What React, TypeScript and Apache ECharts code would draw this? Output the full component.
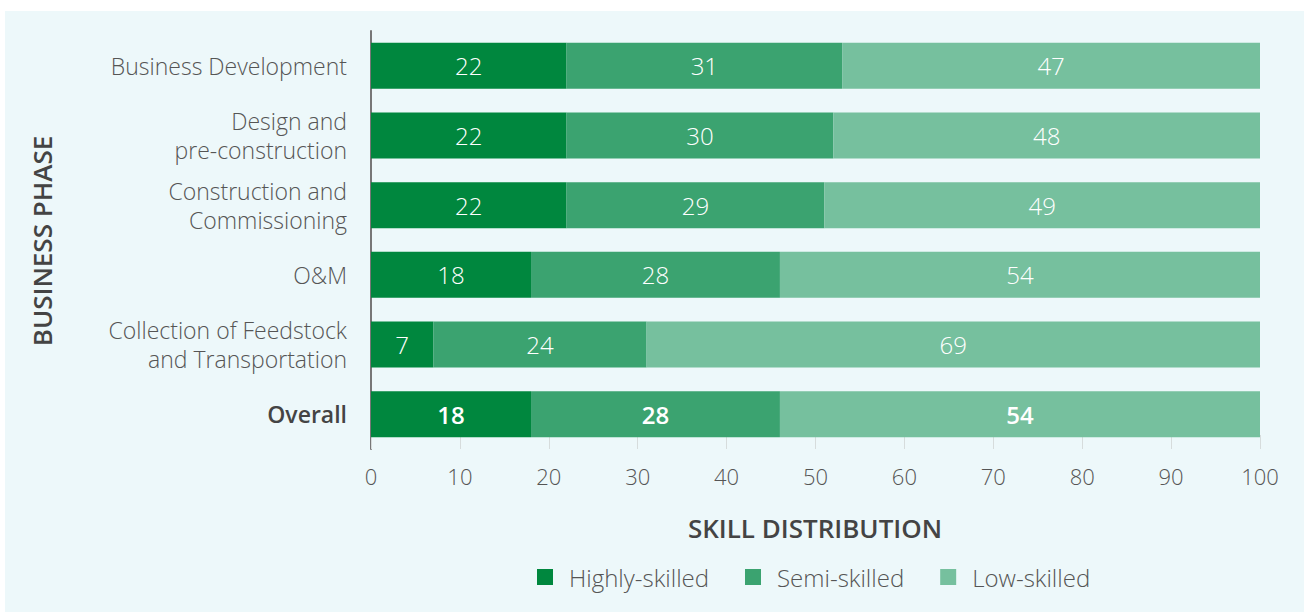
import React, { useEffect, useRef } from "react";
import * as echarts from "echarts";

const categories = [
  "Business Development",
  "Design and\npre-construction",
  "Construction and\nCommissioning",
  "O&M",
  "Collection of Feedstock\nand Transportation",
  "Overall",
];
const highlySkilled = [22, 22, 22, 18, 7, 18];
const semiSkilled = [31, 30, 29, 28, 24, 28];
const lowSkilled = [47, 48, 49, 54, 69, 54];
const seriesNames = ["Highly-skilled", "Semi-skilled", "Low-skilled"];
const colors = ["#00873e", "#3ba370", "#76c09e"];

const FONT = "Open Sans";
const TEXT = "#555555";

export default function App() {
  const ref = useRef<HTMLDivElement>(null);
  useEffect(() => {
    if (!ref.current) return;
    const chart = echarts.init(ref.current, null, { renderer: "svg" });
    const mk = (name: string, vals: number[], color: string) => ({
      name,
      type: "bar",
      stack: "total",
      barCategoryGap: "34%",
      itemStyle: { color },
      label: {
        show: true,
        position: "inside",
        color: "#ffffff",
        fontFamily: FONT,
        fontSize: 24,
        fontWeight: 300,
      },
      data: vals.map((v, i) =>
        categories[i] === "Overall"
          ? { value: v, label: { fontWeight: 600 } }
          : { value: v }
      ),
    });
    chart.setOption({
      animation: false,
      backgroundColor: "#ffffff",
      textStyle: { fontFamily: FONT },
      graphic: [
        {
          type: "rect",
          z: -10,
          silent: true,
          shape: { x: 5, y: 11, width: 1299, height: 601 },
          style: { fill: "#edf8fa" },
        },
        {
          type: "text",
          x: 815,
          y: 528,
          style: {
            text: "SKILL DISTRIBUTION",
            fill: "#444444",
            font: `600 26px ${FONT}`,
            align: "center",
            verticalAlign: "middle",
          },
        },
        {
          type: "text",
          x: 42,
          y: 241,
          rotation: Math.PI / 2,
          style: {
            text: "BUSINESS PHASE",
            fill: "#444444",
            font: `600 26px ${FONT}`,
            align: "center",
            verticalAlign: "middle",
          },
        },
      ],
      legend: {
        data: seriesNames,
        top: 565,
        left: 537,
        padding: 0,
        itemWidth: 16,
        itemHeight: 16,
        itemGap: 36,
        icon: "rect",
        textStyle: {
          color: TEXT,
          fontSize: 24,
          fontFamily: FONT,
          fontWeight: 300,
          padding: [0, 0, 0, 11],
        },
      },
      grid: { left: 371, right: 44, top: 31, bottom: 163, containLabel: false },
      xAxis: {
        type: "value",
        min: 0,
        max: 100,
        interval: 10,
        axisLine: { show: false },
        axisTick: {
          show: true,
          inside: true,
          length: 14,
          lineStyle: { color: "#d6dcdc", width: 1 },
        },
        splitLine: { show: false },
        axisLabel: { color: TEXT, fontSize: 22, margin: 16, fontFamily: FONT, fontWeight: 300 },
      },
      yAxis: {
        type: "category",
        inverse: true,
        data: categories,
        axisLine: { show: true, lineStyle: { color: "#777777", width: 2 } },
        axisTick: { show: false },
        axisLabel: {
          color: TEXT,
          fontSize: 23,
          lineHeight: 29,
          margin: 24,
          fontFamily: FONT,
          fontWeight: 300,
          formatter: (v: string) => (v === "Overall" ? `{b|${v}}` : v),
          rich: {
            b: { fontWeight: 600, fontSize: 23, color: "#444444", fontFamily: FONT },
          },
        },
      },
      series: [
        mk(seriesNames[0], highlySkilled, colors[0]),
        mk(seriesNames[1], semiSkilled, colors[1]),
        mk(seriesNames[2], lowSkilled, colors[2]),
      ],
    });
    return () => chart.dispose();
  }, []);
  return (
    <div style={{ position: "fixed", left: 0, top: 0, width: 1304, height: 612 }}>
      <div ref={ref} style={{ width: 1304, height: 612 }} />
    </div>
  );
}
